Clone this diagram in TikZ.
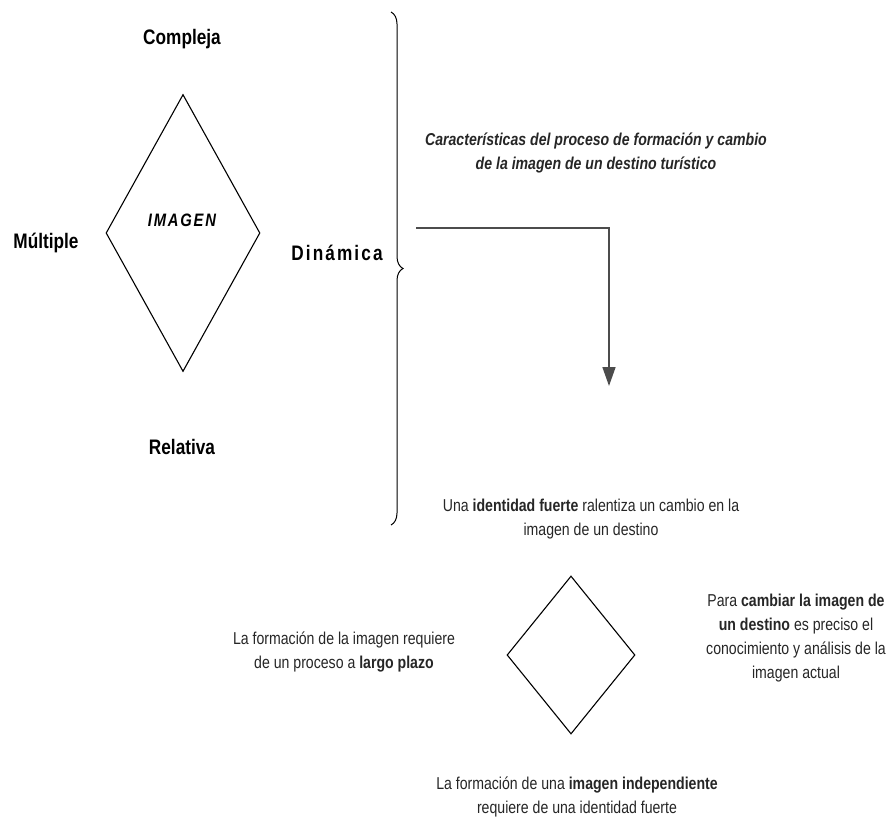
\documentclass[tikz,border=0pt]{standalone}
\usepackage{fontspec}
\setmainfont{Liberation Sans}
\newfontfamily\nr[FakeStretch=0.82]{Liberation Sans}
\newfontfamily\nrsp[FakeStretch=0.82,LetterSpace=10]{Liberation Sans}
\usetikzlibrary{shapes.geometric,arrows.meta,decorations.pathreplacing}
\begin{document}
\begin{tikzpicture}[x=1pt,y=-1pt,
  lbl/.style={font=\nr\bfseries\fontsize{21}{25}\selectfont, inner sep=0pt, text=black},
  body/.style={font=\nr\fontsize{17.2}{24}\selectfont, align=center, inner sep=0pt, text=black!85},
  dia/.style={draw=black, line width=1.1pt, diamond, inner sep=0pt},
  conn/.style={draw=black!70, line width=1.6pt, -{Triangle[width=13pt,length=19pt]}}
]
\useasboundingbox (0,0) rectangle (890,818);
% left part
\node[lbl] (compleja) at (182,39) {Compleja};
\node[lbl] (multiple) at (46,243) {Múltiple};
\node[lbl] (relativa) at (182,447) {Relativa};
\node[inner sep=0pt, font=\nrsp\bfseries\fontsize{21}{25}\selectfont] (dinamica) at (337,253) {Dinámica};
\node[dia, minimum width=154pt, minimum height=277pt] (bigdia) at (183,233) {};
\node[inner sep=0pt, font=\nrsp\bfseries\itshape\fontsize{18}{22}\selectfont] (imagen) at (182,220) {IMAGEN};
% brace
\draw[line width=1pt, decorate, decoration={brace, amplitude=12pt, aspect=0.5}] (391,12) -- (391,525);
% title
\node[body, font=\nr\bfseries\itshape\fontsize{17.2}{24}\selectfont] (title) at (596,153)
  {Características del proceso de formación y cambio\\de la imagen de un destino turístico};
% arrow
\coordinate (arrS) at (416,228);
\coordinate (arrE) at (609,386);
\draw[conn] (arrS) -| (arrE);
% lower part
\node[body] (top) at (591,519) {Una \textbf{identidad fuerte} ralentiza un cambio en la\\imagen de un destino};
\node[dia, minimum width=128pt, minimum height=158pt] (smalldia) at (571,655) {};
\node[body] (right) at (796,638) {Para \textbf{cambiar la imagen de}\\\textbf{un destino} es preciso el\\conocimiento y análisis de la\\imagen actual};
\node[body] (left) at (344,652) {La formación de la imagen requiere\\de un proceso a \textbf{largo plazo}};
\node[body] (bottom) at (577,797) {La formación de una \textbf{imagen independiente}\\requiere de una identidad fuerte};
\end{tikzpicture}
\end{document}
